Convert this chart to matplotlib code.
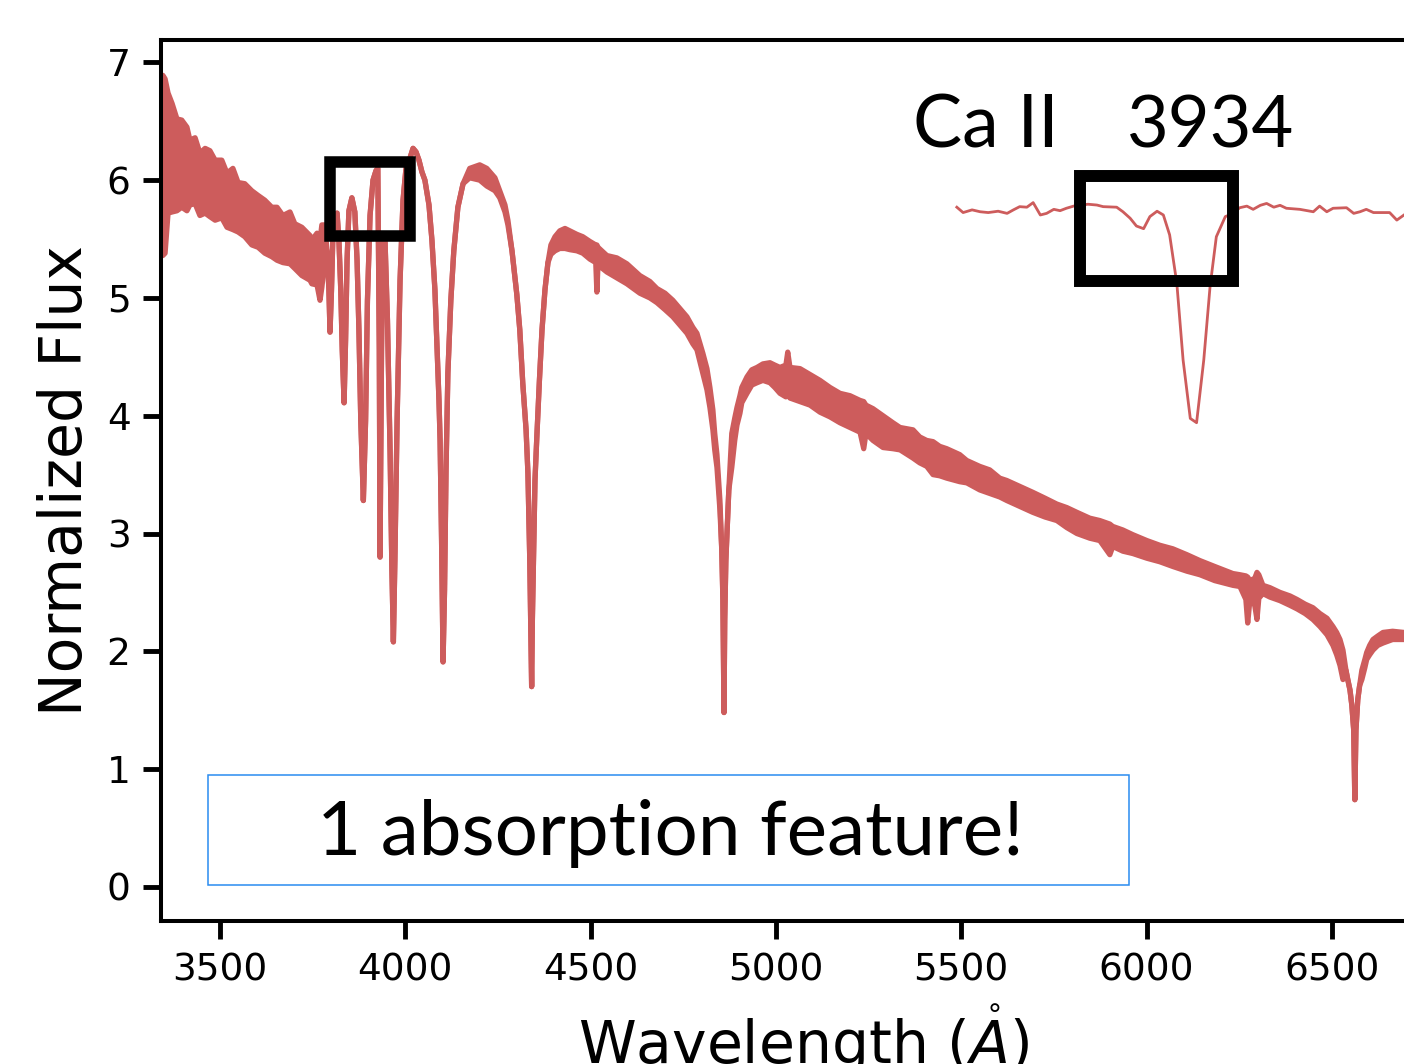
import numpy as np
import matplotlib
matplotlib.use("Agg")
import matplotlib.pyplot as plt
from matplotlib.patches import Rectangle

# spectrum: wavelength (A), upper / lower edge of the noisy trace
wave = [3341, 3346, 3352, 3360, 3371, 3384, 3397, 3411, 3419, 3433, 3446, 3460, 3473, 3487,
        3505, 3519, 3535, 3549, 3567, 3586, 3603, 3621, 3640, 3654, 3670, 3689, 3702, 3721,
        3743, 3748, 3762, 3770, 3775, 3783,
        3789, 3794, 3797, 3801, 3805, 3810, 3816, 3821, 3826, 3830, 3835, 3839, 3843, 3848,
        3856, 3864, 3870, 3875, 3880, 3887, 3893, 3898, 3905, 3913, 3921, 3926, 3930, 3932,
        3936, 3940, 3945, 3952, 3959, 3964, 3968, 3972, 3978, 3986, 3994, 4002, 4013, 4021,
        4029, 4037, 4045, 4053, 4064, 4072, 4080, 4085, 4091, 4094, 4098, 4100, 4102, 4106,
        4110, 4115, 4123, 4131, 4142, 4156,
        4174, 4201, 4220, 4242, 4255, 4269, 4277,
        4288, 4301, 4309, 4317, 4326, 4331, 4336, 4339, 4341, 4343, 4346, 4350, 4355, 4362,
        4369, 4377, 4385,
        4393, 4404, 4417, 4431, 4444, 4463, 4479, 4498, 4514, 4517, 4520, 4544, 4571, 4598,
        4633, 4660, 4679, 4701, 4722, 4741, 4760, 4776, 4787, 4803, 4814, 4822, 4830, 4835,
        4841, 4849,
        4854, 4857, 4860, 4862, 4865, 4868, 4873,
        4881, 4889, 4895, 4903, 4908, 4922, 4935, 4949, 4965, 4984, 4997, 5011, 5027, 5032,
        5038, 5065, 5092, 5119, 5146, 5173, 5200, 5227, 5237, 5243, 5262, 5289, 5316, 5335,
        5370, 5388, 5407, 5424, 5442, 5461, 5496, 5515, 5550, 5577, 5604, 5623, 5658, 5693,
        5726, 5758, 5785, 5812, 5847, 5874, 5901, 5909, 5936, 5963, 6001, 6036, 6071, 6109,
        6144, 6184, 6233, 6252, 6268, 6273, 6279, 6292, 6298, 6303, 6314, 6333, 6360, 6387,
        6406, 6428, 6449, 6468, 6487, 6503, 6513, 6522, 6530,
        6538, 6543, 6549, 6554, 6559, 6562, 6565, 6570, 6575,
        6581, 6589, 6594, 6602, 6611, 6624, 6638, 6664, 6694, 6764]

flux_hi = [6.68, 6.89, 6.86, 6.74, 6.65, 6.52, 6.51, 6.45, 6.34, 6.36, 6.23, 6.27, 6.25, 6.17,
           6.17, 6.06, 6.10, 5.98, 5.97, 5.91, 5.87, 5.83, 5.77, 5.77, 5.70, 5.73, 5.63, 5.60,
           5.53, 5.49, 5.55, 5.49, 5.62, 5.62,
           5.40, 5.07, 4.71, 5.07, 5.55, 5.70, 5.72, 5.49, 5.07, 4.56, 4.11, 4.64, 5.32, 5.74,
           5.85, 5.73, 5.32, 4.73, 3.96, 3.28, 3.96, 4.98, 5.70, 6.00, 6.08, 6.10, 4.56, 2.80,
           4.56, 5.49, 5.53, 4.81, 3.71, 2.69, 2.08, 2.77, 3.96, 5.15, 5.83, 6.10, 6.19, 6.27,
           6.24, 6.17, 6.07, 6.00, 5.79, 5.49, 5.07, 4.64, 4.13, 3.79, 2.94, 2.44, 1.91, 2.52,
           3.54, 4.36, 4.98, 5.40, 5.77, 5.97,
           6.10, 6.13, 6.10, 6.02, 5.91, 5.79, 5.66,
           5.40, 5.03, 4.73, 4.28, 3.88, 3.51, 2.77, 2.10, 1.70, 2.27, 2.77, 3.45, 3.82, 4.30,
           4.73, 5.07, 5.30,
           5.45, 5.52, 5.57, 5.59, 5.57, 5.54, 5.52, 5.48, 5.45, 5.45, 5.43, 5.36, 5.34, 5.29,
           5.19, 5.14, 5.08, 5.04, 4.98, 4.91, 4.84, 4.75, 4.70, 4.53, 4.40, 4.24, 4.05, 3.85,
           3.67, 3.28,
           2.86, 2.44, 1.48, 2.27, 2.77, 3.00, 3.37,
           3.85, 3.98, 4.07, 4.17, 4.24, 4.33, 4.39, 4.41, 4.44, 4.45, 4.43, 4.41, 4.43, 4.54,
           4.41, 4.40, 4.35, 4.30, 4.24, 4.19, 4.17, 4.13, 4.12, 4.09, 4.06, 4.00, 3.94, 3.90,
           3.88, 3.82, 3.79, 3.78, 3.74, 3.72, 3.67, 3.62, 3.57, 3.54, 3.47, 3.45, 3.40, 3.35,
           3.30, 3.25, 3.22, 3.18, 3.13, 3.11, 3.08, 3.06, 3.03, 2.99, 2.94, 2.90, 2.87, 2.82,
           2.77, 2.72, 2.66, 2.65, 2.64, 2.63, 2.60, 2.62, 2.67, 2.65, 2.56, 2.54, 2.50, 2.47,
           2.44, 2.40, 2.37, 2.32, 2.28, 2.21, 2.16, 2.10, 2.01,
           1.84, 1.76, 1.67, 1.54, 1.33, 0.74, 1.33, 1.59, 1.71,
           1.84, 1.93, 1.99, 2.05, 2.10, 2.13, 2.16, 2.17, 2.16, 2.16]

flux_lo = [5.74, 5.36, 5.38, 5.72, 5.73, 5.74, 5.77, 5.74, 5.79, 5.80, 5.70, 5.72, 5.69, 5.66,
           5.68, 5.60, 5.58, 5.56, 5.52, 5.45, 5.43, 5.38, 5.35, 5.32, 5.30, 5.29, 5.25, 5.19,
           5.15, 5.12, 5.11, 4.98, 5.09, 5.32,
           5.40, 5.07, 4.71, 5.07, 5.55, 5.70, 5.72, 5.49, 5.07, 4.56, 4.11, 4.64, 5.32, 5.74,
           5.85, 5.73, 5.32, 4.73, 3.96, 3.28, 3.96, 4.98, 5.70, 6.00, 6.08, 6.10, 4.56, 2.80,
           4.56, 5.49, 5.53, 4.81, 3.71, 2.69, 2.08, 2.77, 3.96, 5.15, 5.83, 6.10, 6.19, 6.27,
           6.24, 6.17, 6.07, 6.00, 5.79, 5.49, 5.07, 4.64, 4.13, 3.79, 2.94, 2.44, 1.91, 2.52,
           3.54, 4.36, 4.98, 5.40, 5.77, 5.97,
           6.02, 6.00, 5.95, 5.91, 5.85, 5.73, 5.62,
           5.40, 5.03, 4.73, 4.28, 3.88, 3.51, 2.77, 2.10, 1.70, 2.27, 2.77, 3.45, 3.82, 4.30,
           4.73, 5.07, 5.30,
           5.37, 5.40, 5.42, 5.42, 5.41, 5.40, 5.38, 5.33, 5.30, 5.05, 5.28, 5.22, 5.17, 5.12,
           5.04, 5.00, 4.96, 4.90, 4.84, 4.77, 4.70, 4.61, 4.56, 4.36, 4.22, 4.07, 3.88, 3.71,
           3.56, 3.20,
           2.86, 2.44, 1.48, 2.27, 2.77, 3.00, 3.37,
           3.56, 3.79, 3.92, 4.02, 4.11, 4.19, 4.26, 4.28, 4.30, 4.28, 4.24, 4.19, 4.16, 4.19,
           4.15, 4.12, 4.09, 4.03, 3.99, 3.94, 3.90, 3.86, 3.72, 3.85, 3.79, 3.73, 3.72, 3.71,
           3.64, 3.60, 3.57, 3.50, 3.49, 3.47, 3.44, 3.43, 3.37, 3.34, 3.31, 3.28, 3.23, 3.18,
           3.14, 3.11, 3.05, 3.00, 2.96, 2.94, 2.82, 2.89, 2.85, 2.83, 2.79, 2.76, 2.72, 2.68,
           2.65, 2.60, 2.56, 2.55, 2.44, 2.24, 2.44, 2.39, 2.27, 2.45, 2.49, 2.46, 2.43, 2.39,
           2.36, 2.32, 2.27, 2.21, 2.14, 2.05, 1.97, 1.88, 1.76,
           1.84, 1.76, 1.67, 1.54, 1.33, 0.74, 1.33, 1.59, 1.71,
           1.76, 1.86, 1.93, 1.97, 2.01, 2.05, 2.07, 2.10, 2.10, 2.10]

# zoom on the Ca II K line
ca_wave = [3907.7, 3908.4, 3909.4, 3910.3, 3911.2, 3912.3, 3913.3, 3914.0, 3914.7, 3915.5,
           3916.2, 3917.0, 3917.7, 3918.5, 3919.2, 3919.9, 3920.7, 3921.6, 3922.3, 3923.3,
           3924.0, 3925.5, 3926.2, 3927.0, 3927.7, 3928.5, 3929.2, 3930.0, 3930.7, 3931.4,
           3932.2, 3932.9, 3933.7, 3934.4, 3935.2, 3935.9, 3936.6, 3937.6, 3938.5, 3939.2,
           3940.0, 3940.7, 3941.5, 3942.2, 3943.0, 3943.7, 3944.4, 3945.9, 3947.4, 3948.1,
           3948.9, 3949.6, 3951.1, 3951.9, 3952.6, 3953.3, 3954.1, 3955.9, 3956.7, 3957.5]
ca_flux = [1.003, 0.983, 0.993, 0.986, 0.983, 0.988, 0.980, 0.993, 1.005, 1.003,
           1.020, 0.974, 0.980, 0.995, 0.990, 0.999, 1.007, 1.011, 1.014, 1.011,
           1.005, 1.003, 0.986, 0.962, 0.933, 0.923, 0.968, 0.988, 0.974, 0.900,
           0.720, 0.434, 0.217, 0.201, 0.434, 0.707, 0.893, 0.968, 0.980, 1.001,
           1.007, 0.995, 1.010, 1.017, 1.003, 1.010, 0.999, 0.995, 0.986, 1.007,
           0.986, 0.999, 1.001, 0.980, 0.986, 0.995, 0.983, 0.983, 0.955, 0.974]

xticks = [3500, 4000, 4500, 5000, 5500, 6000, 6500]
yticks = [0, 1, 2, 3, 4, 5, 6, 7]

red = "indianred"

W, H = 1404, 1064
fig = plt.figure(figsize=(W / 100, H / 100), dpi=100)
ax = fig.add_axes([161 / W, 1 - 921 / H, (1446 - 161) / W, (921 - 40) / H])

ax.fill_between(wave, flux_lo, flux_hi, color=red, lw=0)
ax.plot(wave, flux_hi, color=red, lw=3.8, solid_joinstyle="round")
ax.plot(wave, flux_lo, color=red, lw=3.8, solid_joinstyle="round")

ax.set_xlim(3341, 6808)
ax.set_ylim(-0.29, 7.19)
ax.set_xticks(xticks)
ax.set_yticks(yticks)
ax.tick_params(direction="out", length=13, width=3.5, labelsize=27)
ax.tick_params(axis="x", pad=10)
ax.tick_params(axis="y", pad=9)
for s in ax.spines.values():
    s.set_linewidth(2.9)
ax.set_xlabel(r"Wavelength ($\mathring{A}$)", fontsize=42, labelpad=10)
ax.set_ylabel("Normalized Flux", fontsize=42, labelpad=9)

# box round the Ca II K region of the spectrum
ax.add_patch(Rectangle((3797, 5.53), 216, 0.62, fill=False, ec="black", lw=8.3,
                       joinstyle="miter", zorder=5))

ax.text(5370, 6.28, "Ca II", fontsize=53, family="Lato")
ax.text(5947, 6.28, "3934", fontsize=52, family="Lato")

ax.add_patch(Rectangle((3468, 0.017), 2484, 0.933, fill=False, ec="#2a8cf0", lw=1.1, zorder=5))
ax.text(4714, 0.27, "1 absorption feature!", fontsize=55, family="Lato", ha="center")

# inset with the Ca II K line
axi = fig.add_axes([950 / W, 1 - 440 / H, (W - 950) / W, 280 / H])
axi.plot(ca_wave, ca_flux, color=red, lw=2.0)
axi.set_xlim(3906.94, 3957.5)
axi.set_ylim(0.1367, 1.1786)
axi.axis("off")
axi.add_patch(Rectangle((3921.47, 0.728), 16.98, 0.391, fill=False, ec="black", lw=8.6,
                        joinstyle="miter", clip_on=False, zorder=5))

fig.savefig("out.png", dpi=100)
